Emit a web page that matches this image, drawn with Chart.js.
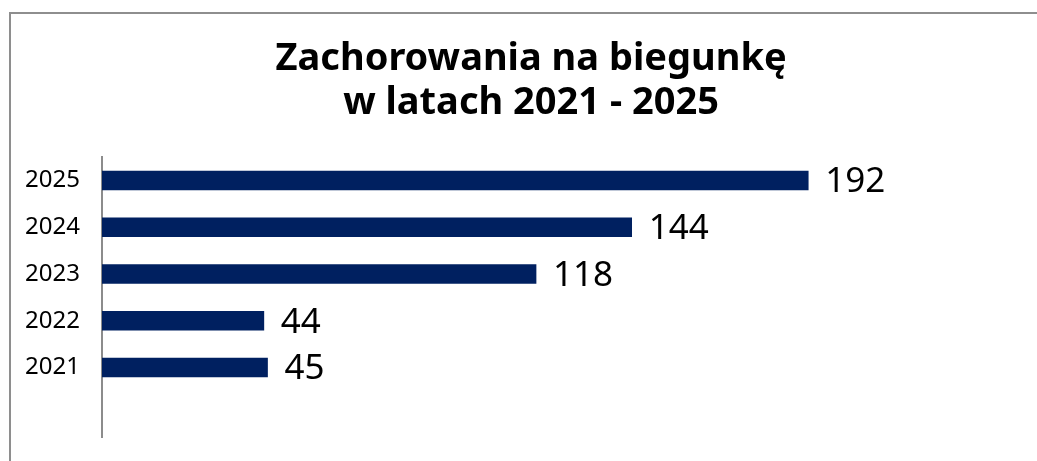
<!DOCTYPE html>
<html>
<head>
<meta charset="utf-8">
<script src="https://cdn.jsdelivr.net/npm/chart.js@4"></script>
<style>
  html, body { margin: 0; padding: 0; background: #fff; overflow: hidden; }
  #frame {
    position: absolute;
    left: 9px;
    top: 12px;
    width: 1045px;
    height: 460px;
    border: 2px solid #8e8e8e;
  }
  #chart { display: block; }
</style>
</head>
<body>
<div id="frame">
  <canvas id="chart" width="1045" height="460"></canvas>
</div>
<script>
const years = ["2025", "2024", "2023", "2022", "2021", ""];
const cases = [192, 144, 118, 44, 45, null];
const titleLines = ["Zachorowania na biegunkę", "w latach 2021 - 2025"];

const barColor = "#002060";
const axisColor = "#8c8c8c";
const fontFamily = "'Noto Sans', 'DejaVu Sans', sans-serif";

// draws the number right of each bar
const valueLabels = {
  id: "valueLabels",
  afterDatasetsDraw(chart) {
    const ctx = chart.ctx;
    const meta = chart.getDatasetMeta(0);
    ctx.save();
    ctx.fillStyle = "#000";
    ctx.font = "35px " + fontFamily;
    ctx.textAlign = "left";
    ctx.textBaseline = "middle";
    meta.data.forEach((bar, i) => {
      const v = chart.data.datasets[0].data[i];
      if (v == null) return;
      ctx.fillText(String(v), bar.x + 17, bar.y + 2);
    });
    ctx.restore();
  }
};

const chart = new Chart(document.getElementById("chart"), {
  type: "bar",
  plugins: [valueLabels],
  data: {
    labels: years,
    datasets: [
      {
        data: cases,
        backgroundColor: barColor,
        borderWidth: 0,
        barThickness: 19,
      },
    ],
  },
  options: {
    indexAxis: "y",
    responsive: false,
    animation: false,
    layout: {
      padding: { left: 0, right: 5, top: 0, bottom: 35 },
    },
    plugins: {
      legend: { display: false },
      tooltip: { enabled: false },
      title: {
        display: true,
        text: titleLines,
        color: "#000",
        font: { family: fontFamily, size: 38, weight: "bold", lineHeight: 1.16 },
        padding: { top: 23, bottom: 32 },
      },
    },
    scales: {
      x: {
        display: false,
        min: 0,
        max: 258,
      },
      y: {
        afterFit: (scale) => { scale.width = 91; },
        grid: { display: false, drawTicks: false },
        border: { display: true, color: axisColor, width: 2 },
        ticks: {
          color: "#000",
          padding: 22,
          font: { family: fontFamily, size: 24 },
        },
      },
    },
  },
});
</script>
</body>
</html>
